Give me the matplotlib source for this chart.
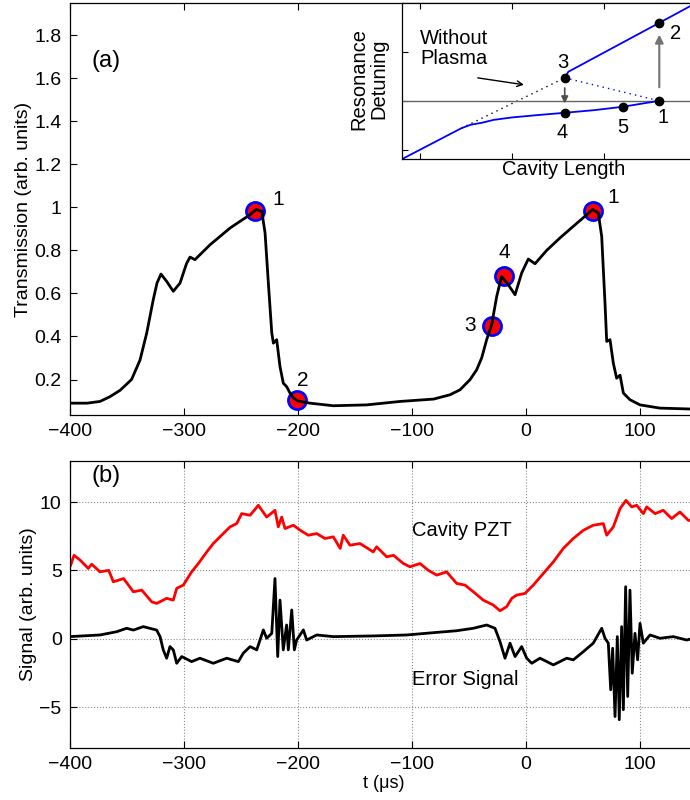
import matplotlib
matplotlib.use('Agg')
import matplotlib.pyplot as plt

plt.rcParams['font.family'] = ['Liberation Sans', 'DejaVu Sans']

# panel (a): cavity transmission vs time (us)
trans_t = [-400, -385, -373.7, -365, -356, -346, -338.6, -332.7, -327, -323.7,
           -320.2, -315.2, -309.4, -303.5, -297.7, -294.7, -290.4, -286, -277.2, -268.4,
           -259.6, -250.9, -242, -236.8, -231.8, -228.9, -226, -223, -221.6, -218.7,
           -215.8, -212.9, -210, -207, -204, -200, -195, -189.5, -169, -139.8,
           -110.5, -81, -66.7, -57.9, -49, -43.3, -38.9, -34.5, -30.1, -25.7,
           -21.4, -15.5, -9.6, -3.8, 2.0, 7.9, 18.1, 29.8, 41.5, 53.3,
           58.5, 63.4, 66.4, 69.3, 70.8, 73.7, 76.6, 79.5, 82.5, 85.4,
           91.2, 100, 117.5, 150]
trans_v = [0.09, 0.09, 0.098, 0.12, 0.15, 0.20, 0.29, 0.416, 0.57, 0.648,
           0.69, 0.656, 0.61, 0.648, 0.74, 0.769, 0.757, 0.78, 0.826, 0.865,
           0.904, 0.935, 0.966, 0.99, 0.982, 0.882, 0.648, 0.416, 0.369, 0.385,
           0.26, 0.183, 0.167, 0.137, 0.114, 0.10, 0.095, 0.09, 0.078, 0.082,
           0.098, 0.109, 0.129, 0.152, 0.2, 0.245, 0.30, 0.385, 0.455, 0.586,
           0.679, 0.64, 0.594, 0.695, 0.76, 0.738, 0.80, 0.858, 0.912, 0.966,
           0.99, 0.974, 0.865, 0.555, 0.377, 0.385, 0.276, 0.206, 0.22, 0.137,
           0.106, 0.082, 0.067, 0.062]

# marked states on the transmission trace
mark_t = [-237.7, -200.9, -30.1, -19.3, 59.0]
mark_v = [0.985, 0.105, 0.451, 0.679, 0.981]
mark_lbl = ['1', '2', '3', '4', '1']

# panel (b): cavity PZT and error signal
pzt_t = [-399.4, -396.5, -391, -384, -381, -373.7, -366, -362, -353, -344.4,
         -337, -328.4, -324, -315.2, -309.4, -306.4, -300.6, -293.3, -287.4, -280,
         -274.3, -267, -259.6, -253.8, -249.4, -242, -234.8, -227.5, -220.2, -217.3,
         -214.3, -211.4, -204, -198, -191, -183.6, -176.3, -169, -163, -160.3,
         -154.4, -145.6, -134, -131, -122.2, -116.2, -107.6, -101.8, -93, -85.7,
         -78.3, -69.6, -60.8, -53.5, -46.2, -37.5, -28.7, -22.8, -17, -12.5,
         -8.2, -0.9, 6.4, 15.2, 24, 32.7, 41.5, 50.3, 59, 67.8,
         70.8, 76.6, 82.5, 87.7, 92.7, 97.1, 102.9, 105.9, 113.2, 120.4,
         127.8, 135, 142.4, 150]
pzt_v = [5.38, 6.1, 5.74, 5.14, 5.45, 4.89, 5.0, 4.16, 4.4, 3.43,
         3.55, 2.7, 2.58, 2.95, 2.82, 3.68, 3.92, 4.89, 5.5, 6.35,
         6.96, 7.57, 8.18, 8.42, 9.15, 9.03, 9.76, 8.9, 9.39, 8.18,
         8.9, 8.06, 8.3, 7.93, 7.57, 7.69, 7.33, 7.45, 6.6, 7.57,
         6.84, 6.96, 6.35, 6.72, 5.99, 6.1, 5.5, 5.26, 5.5, 5.0,
         4.65, 4.89, 4.04, 3.92, 3.43, 2.82, 2.46, 2.04, 2.34, 2.95,
         3.19, 3.31, 3.92, 4.77, 5.62, 6.6, 7.33, 7.93, 8.3, 8.42,
         7.57, 8.18, 9.52, 10.12, 9.64, 9.76, 9.15, 9.64, 9.15, 9.39,
         8.79, 9.27, 8.66, 8.6]

err_t = [-400, -373.7, -359, -350.3, -344.4, -335.7, -324, -321, -318.2, -315.2,
         -312.3, -309.4, -306.4, -302, -293.3, -286, -274.3, -262.5, -252.3, -248,
         -242, -236.2, -230.4, -227.5, -223, -220.2, -217.8, -215.8, -212.9, -210,
         -208.5, -205.5, -203.2, -201.2, -195.3, -192.4, -183.6, -169, -134, -104.7,
         -81, -60.8, -46.2, -34.5, -27.2, -22.8, -18.4, -14, -9.6, -3.8,
         0.6, 5, 12.3, 24, 35.7, 41.5, 50.3, 59, 66.4, 69.3,
         72.2, 74.3, 76, 78.1, 80.1, 81.8, 83.9, 85.4, 87.4, 89.2,
         91.2, 93.2, 95.6, 97.9, 100, 102.9, 108.8, 117.5, 129.2, 140.9,
         150]
err_v = [0.15, 0.27, 0.51, 0.76, 0.63, 0.88, 0.63, 0.15, -0.82, -1.43,
         -0.58, -0.82, -1.8, -1.31, -1.68, -1.43, -1.8, -1.43, -1.68, -1.06,
         -0.58, -0.82, 0.64, 0.03, 0.39, 4.4, -1.31, 2.82, -0.82, 1.0,
         -0.82, 2.1, -0.82, -0.1, 0.64, -0.1, 0.27, 0.15, 0.2, 0.27,
         0.44, 0.58, 0.76, 1.0, 0.76, -0.22, -1.43, -0.33, -1.31, -0.58,
         -1.43, -1.8, -1.43, -1.92, -1.43, -1.55, -0.95, -0.33, 0.76, 0.03,
         -0.33, -3.74, -0.7, -5.7, 0.15, -5.93, 0.88, -5.2, 3.8, -4.23,
         3.55, -2.53, 0.39, -1.55, 1.12, -0.33, 0.27, 0.03, 0.15, -0.1,
         0.1]

# inset: schematic resonance detuning vs cavity length
lower_x = [-0.2, 0.45, 0.55, 0.67, 0.8, 1.0, 1.29, 1.573, 1.9, 2.203, 2.601]
lower_y = [-1.196, -0.56, -0.49, -0.45, -0.39, -0.34, -0.29, -0.245, -0.19, -0.122, 0.0]
upper_x = [1.573, 1.612, 2.601, 3.0]
upper_y = [0.469, 0.594, 1.594, 2.0]
noplasma_x = [0.45, 1.573]
noplasma_y = [-0.56, 0.469]
jump_x = [1.573, 2.601]
jump_y = [0.469, 0.0]
state_x = [2.601, 2.601, 1.573, 1.573, 2.203]
state_y = [0.0, 1.594, 0.469, -0.245, -0.122]
state_lbl = ['1', '2', '3', '4', '5']

FS = 14     # tick labels / axis labels
TS = 14.5   # annotation text
W, H = 690, 800
fig = plt.figure(figsize=(W / 100, H / 100), dpi=100)

def style(ax):
    ax.tick_params(direction='in', top=True, right=True, length=5,
                   labelsize=FS, pad=6)
    for s in ax.spines.values():
        s.set_linewidth(0.9)

# ---- panel (a)
ax1 = fig.add_axes([70 / W, 1 - 415 / H, 627 / W, 412 / H])
ax1.plot(mark_t, mark_v, 'o', ms=13, mfc='red', mec='blue', mew=2, zorder=2)
ax1.plot(trans_t, trans_v, color='k', lw=2, zorder=3)
ax1.set_xlim(-400, 150)
ax1.set_ylim(0.035, 1.95)
ax1.set_xticks([-400, -300, -200, -100, 0, 100])
yt = [0.2, 0.4, 0.6, 0.8, 1.0, 1.2, 1.4, 1.6, 1.8]
ax1.set_yticks(yt)
ax1.set_yticklabels(['%g' % v for v in yt])
style(ax1)
ax1.set_ylabel('Transmission (arb. units)', fontsize=FS)
ax1.yaxis.set_label_coords(-0.06, 0.5)
ax1.text(-381, 1.68, '(a)', fontsize=17, va='center')
lbl_pos = [(-217.5, 1.036), (-195.6, 0.194), (-49.1, 0.45), (-19.3, 0.789), (76.6, 1.044)]
for (x, y), s in zip(lbl_pos, mark_lbl):
    ax1.text(x, y, s, fontsize=TS + 0.5, ha='center', va='center')

# ---- inset
ins = fig.add_axes([402 / W, 1 - 159 / H, 294 / W, 156 / H])
ins.set_facecolor('white')
ins.plot(noplasma_x, noplasma_y, color='k', ls=(0, (1, 3)), lw=1)
ins.plot(jump_x, jump_y, color='blue', ls=(0, (1, 3)), lw=1)
ins.axhline(0, color='0.4', lw=1)
ins.plot(lower_x, lower_y, color='blue', lw=1.3)
ins.plot(upper_x, upper_y, color='blue', lw=1.3)
ins.annotate('', xy=(2.601, 1.41), xytext=(2.601, 0.22),
             arrowprops=dict(arrowstyle='-|>', color='0.45', lw=1.5, mutation_scale=12))
ins.annotate('', xy=(1.573, -0.11), xytext=(1.573, 0.32),
             arrowprops=dict(arrowstyle='-|>', color='0.3', lw=1.2, mutation_scale=10))
ins.plot(state_x, state_y, 'o', color='k', ms=6, zorder=5)
ins_lbl = [(2.64, -0.35), (2.78, 1.38), (1.55, 0.79), (1.55, -0.64), (2.2, -0.54)]
for (x, y), s in zip(ins_lbl, state_lbl):
    ins.text(x, y, s, fontsize=TS, ha='center', va='center')
ins.text(0.0, 1.47, 'Without\nPlasma', fontsize=TS, ha='left', va='top', linespacing=1.05)
ins.annotate('', xy=(1.16, 0.32), xytext=(0.598, 0.477),
             arrowprops=dict(arrowstyle='->', color='k', lw=1))
ins.set_xlim(-0.196, 3.0)
ins.set_ylim(-1.19, 2.0)
ins.set_xticks([0, 1, 2])
ins.set_yticks([-1, 0, 1])
ins.tick_params(direction='in', top=True, right=True, length=4,
                labelbottom=False, labelleft=False)
for s in ins.spines.values():
    s.set_linewidth(0.9)
ins.text(0.551, -0.07, 'Cavity Length', transform=ins.transAxes, fontsize=TS,
         ha='center', va='center', zorder=10)
ins.text(-0.112, 0.513, 'Resonance\nDetuning', transform=ins.transAxes, fontsize=TS,
         ha='center', va='center', rotation=90, linespacing=1.05)

# ---- panel (b)
ax2 = fig.add_axes([70 / W, 1 - 748 / H, 627 / W, 287 / H])
ax2.plot(pzt_t, pzt_v, color='red', lw=2)
ax2.plot(err_t, err_v, color='k', lw=2)
ax2.set_xlim(-400, 150)
ax2.set_ylim(-8, 13)
ax2.set_xticks([-400, -300, -200, -100, 0, 100])
ax2.set_yticks([-5, 0, 5, 10])
ax2.grid(True, ls=':', color='0.55', lw=0.8)
style(ax2)
ax2.set_ylabel('Signal (arb. units)', fontsize=FS)
ax2.yaxis.set_label_coords(-0.053, 0.5)
ax2.set_xlabel('t (\u03bcs)', fontsize=13, labelpad=1)
ax2.text(-381, 11.9, '(b)', fontsize=17, va='center')
ax2.text(-100.3, 7.93, 'Cavity PZT', fontsize=TS, va='center')
ax2.text(-100.3, -3.01, 'Error Signal', fontsize=TS, va='center')

fig.savefig('out.png', dpi=100)
